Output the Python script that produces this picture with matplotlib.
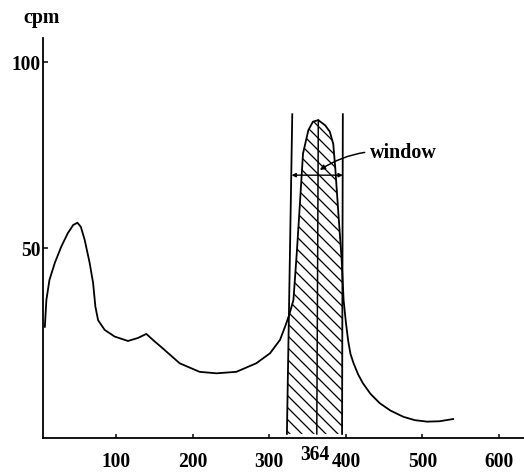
import numpy as np
import matplotlib
matplotlib.use("Agg")
import matplotlib.pyplot as plt
from matplotlib.patches import Polygon

# spectrum (energy in keV, counts per minute)
energy = [7, 9, 13, 20, 28.5, 37, 44, 49.5, 54, 59,
          65.5, 70, 73, 76.5, 85, 98, 115.5, 128.5, 139.5, 148,
          161, 183, 209, 231, 257, 283, 301, 314, 320.5, 326,
          331.5, 336, 340, 344, 351, 357, 364, 373, 379, 383.5,
          386, 389, 392, 394.5, 397, 400, 403, 406, 410, 416,
          422, 432, 444, 458, 475, 490, 506, 522, 540]
cpm = [28.8, 36, 41.4, 46, 50.4, 54, 56.2, 56.8, 55.7, 52.2,
       46, 40.6, 34.2, 30.6, 28, 26.2, 25, 25.8, 26.9, 25.3,
       23, 19, 16.7, 16.3, 16.7, 19, 21.7, 25.3, 28.8, 32,
       36, 49, 62, 75.4, 81.7, 84, 84.4, 83, 81.3, 78,
       71.9, 62.9, 54, 46.8, 36, 30, 25, 21.5, 19, 16,
       13.7, 10.8, 8.3, 6.3, 4.6, 3.7, 3.3, 3.4, 4]

# window bounds (x at bottom, x at top) and line height
win_left = [323, 330]
win_right = [395, 396]
win_top = 86
peak = 364
peak_foot = 362
width_y = 69.6

xticks = [100, 200, 300, 400, 500, 600]
yticks = [50, 100]

plt.rcParams['font.family'] = ['Liberation Serif', 'DejaVu Serif']
plt.rcParams['font.weight'] = 'bold'
plt.rcParams['hatch.linewidth'] = 1.3

fig = plt.figure(figsize=(524 / 72, 473 / 72), dpi=72)
ax = fig.add_axes([43 / 524, 35 / 473, 481 / 524, 400 / 473])

ax.plot(energy, cpm, color='black', lw=1.8, solid_joinstyle='round')

# hatched area under the curve inside the window
fill = ax.fill_between(energy, cpm, 0, facecolor='none', edgecolor='black',
                       hatch='\\\\', linewidth=0)
clip = Polygon([(win_left[0], 0), (win_left[1], win_top),
                (win_right[1], win_top), (win_right[0], 0)],
               closed=True, transform=ax.transData)
fill.set_clip_path(clip)

ax.plot(win_left, [0, win_top], color='black', lw=1.8)
ax.plot(win_right, [0, win_top], color='black', lw=1.8)
ax.plot([peak_foot, peak], [0, max(cpm)], color='black', lw=1.5)

ax.annotate('', xy=(win_left[1] - 1, width_y), xytext=(win_right[1], width_y),
            arrowprops=dict(arrowstyle='<|-|>', lw=1.4, color='black',
                            mutation_scale=8, shrinkA=0, shrinkB=0))
ax.annotate('window', xy=(peak + 2, 71), xytext=(431, 75.5),
            fontsize=20, va='center', ha='left',
            arrowprops=dict(arrowstyle='-|>', lw=1.5, color='black',
                            connectionstyle='arc3,rad=0.2',
                            mutation_scale=10, shrinkA=3, shrinkB=0))

ax.set_xlim(4.6, 632.5)
ax.set_ylim(-1.1, 106.5)
ax.set_xticks(xticks)
ax.set_yticks(yticks)
ax.tick_params(axis='x', direction='in', length=4, width=1.5, pad=14,
               labelsize=19.5)
ax.tick_params(axis='y', direction='in', length=5, width=1.5, pad=2,
               labelsize=19.5)
ax.text(peak - 5, -3, str(peak), fontsize=19.5, ha='center', va='top')

for side in ['top', 'right']:
    ax.spines[side].set_visible(False)
for side in ['left', 'bottom']:
    ax.spines[side].set_linewidth(1.8)

fig.text(42 / 524, 1 - 18 / 473, 'cpm', fontsize=20, ha='center', va='center')

fig.savefig('out.png', dpi=72)
